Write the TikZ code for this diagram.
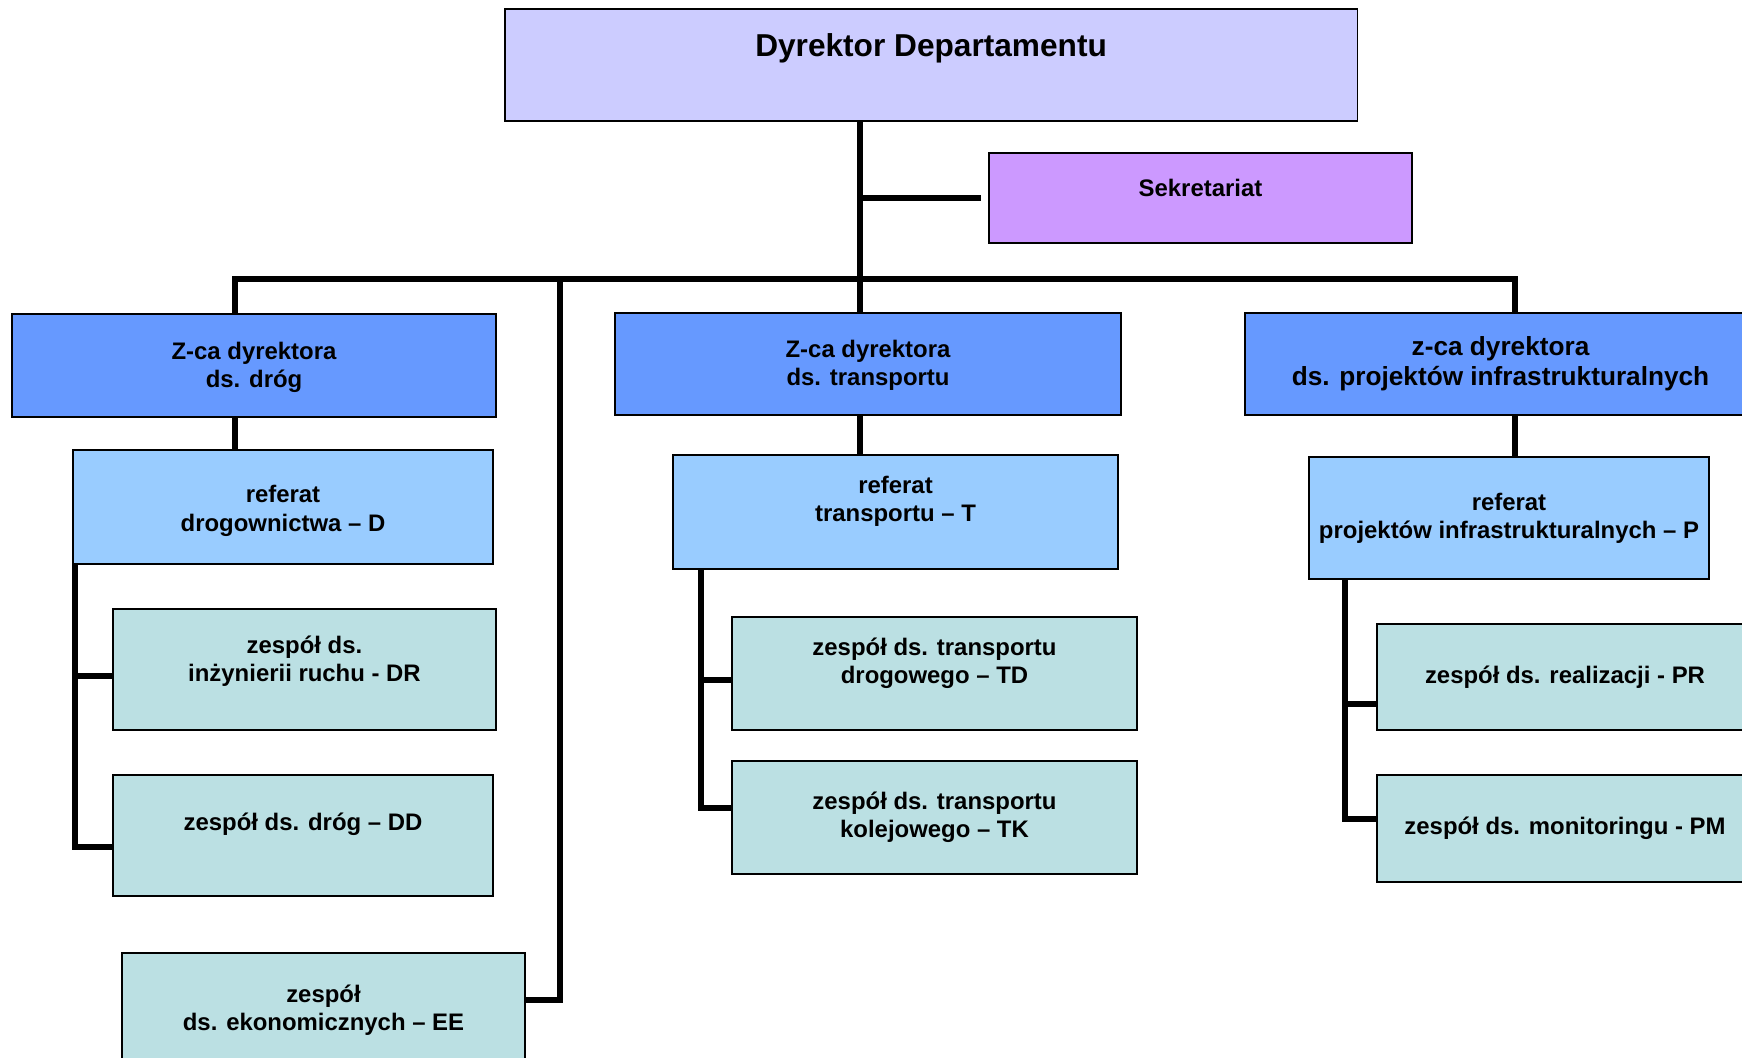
\documentclass[tikz,border=0pt]{standalone}
\usepackage{fontspec}
\setmainfont{Liberation Sans}
\usetikzlibrary{positioning}

\definecolor{dyrcol}{HTML}{CCCCFF}
\definecolor{sekcol}{HTML}{CC99FF}
\definecolor{zcacol}{HTML}{6699FF}
\definecolor{refcol}{HTML}{99CCFF}
\definecolor{zescol}{HTML}{BBE0E3}

\begin{document}
\begin{tikzpicture}[x=0.01cm, y=-0.01cm,
  box/.style={draw, line width=0.5pt, anchor=north west, inner sep=0pt},
  txt/.style={align=center, font=\fontsize{6.8}{8}\selectfont\bfseries},
  conn/.style={line width=1.6pt}]

\useasboundingbox (0,0) rectangle (1742,1058);
\fill[white] (0,0) rectangle (1742,1058);
\clip (0,0) rectangle (1742,1058);

\node[box, fill=dyrcol, minimum width=8.52cm, minimum height=1.12cm, label={[txt, font=\fontsize{9}{11}\selectfont\bfseries, yshift=0.17cm]center:Dyrektor Departamentu}](Dyr) at (504,8) {};
\node[box, fill=sekcol, minimum width=4.23cm, minimum height=0.90cm, label={[txt, yshift=0.10cm]center:Sekretariat}](Sek) at (988,152) {};

\node[box, fill=zcacol, minimum width=4.84cm, minimum height=1.03cm, label={[txt, yshift=-0.02cm]center:Z-ca dyrektora\\ds. dróg}](ZD) at (11,313) {};
\node[box, fill=zcacol, minimum width=5.06cm, minimum height=1.02cm, label={[txt, yshift=-0.01cm]center:Z-ca dyrektora\\ds. transportu}](ZT) at (614,312) {};
\node[box, fill=zcacol, minimum width=5.11cm, minimum height=1.02cm, label={[txt, font=\fontsize{7.45}{8.5}\selectfont\bfseries]center:z-ca dyrektora\\ds. projektów infrastrukturalnych}](ZP) at (1244,312) {};

\node[box, fill=refcol, minimum width=4.20cm, minimum height=1.14cm, label={[txt, yshift=-0.04cm]center:referat\\drogownictwa – D}](RD) at (72,449) {};
\node[box, fill=refcol, minimum width=4.45cm, minimum height=1.14cm, label={[txt, yshift=0.11cm]center:referat\\transportu – T}](RT) at (672,454) {};
\node[box, fill=refcol, minimum width=4.00cm, minimum height=1.22cm, label={[txt]center:referat\\projektów infrastrukturalnych – P}](RP) at (1308,456) {};

\node[box, fill=zescol, minimum width=3.83cm, minimum height=1.21cm, label={[txt, yshift=0.08cm]center:zespół ds.\\inżynierii ruchu - DR}](DR) at (112,608) {};
\node[box, fill=zescol, minimum width=3.80cm, minimum height=1.21cm, label={[txt, yshift=0.115cm]center:zespół ds. dróg – DD}](DD) at (112,774) {};
\node[box, fill=zescol, minimum width=4.03cm, minimum height=1.14cm, label={[txt]center:zespół\\ds. ekonomicznych – EE}](EE) at (121,952) {};

\node[box, fill=zescol, minimum width=4.05cm, minimum height=1.13cm, label={[txt, yshift=0.105cm]center:zespół ds. transportu\\drogowego – TD}](TD) at (731,616) {};
\node[box, fill=zescol, minimum width=4.05cm, minimum height=1.13cm, label={[txt]center:zespół ds. transportu\\kolejowego – TK}](TK) at (731,760) {};

\node[box, fill=zescol, minimum width=3.76cm, minimum height=1.06cm, label={[txt]center:zespół ds. realizacji - PR}](PR) at (1376,623) {};
\node[box, fill=zescol, minimum width=3.76cm, minimum height=1.07cm, label={[txt]center:zespół ds. monitoringu - PM}](PM) at (1376,774) {};

\coordinate (xT) at (860,0);
\coordinate (xL) at (235,0);
\coordinate (xR) at (1515,0);
\coordinate (xE) at (560,0);
\coordinate (xD) at (75,0);
\coordinate (xTT) at (701,0);
\coordinate (xP) at (1345,0);

\draw[conn] (xT |- Dyr.south) -- (xT |- ZT.north);
\draw[conn, shorten >=0.07cm] (xT |- Sek.west) -- (Sek.west);
\draw[conn] (xL |- ZD.north) |- (xR |- 0,279) -- (xR |- ZP.north);
\draw[conn] (xE |- 0,277) |- (EE.east |- 0,1000);

\draw[conn] (xL |- ZD.south) -- (xL |- RD.north);
\draw[conn] (xT |- ZT.south) -- (xT |- RT.north);
\draw[conn] (xR |- ZP.south) -- (xR |- RP.north);

\draw[conn] (xD |- RD.south) |- (DD.west |- 0,847);
\draw[conn] (xD |- 0,676) -- (DR.west |- 0,676);
\draw[conn] (xTT |- RT.south) |- (TK.west |- 0,808);
\draw[conn] (xTT |- 0,680) -- (TD.west |- 0,680);
\draw[conn] (xP |- RP.south) |- (PM.west |- 0,819);
\draw[conn] (xP |- 0,704) -- (PR.west |- 0,704);
\end{tikzpicture}
\end{document}
